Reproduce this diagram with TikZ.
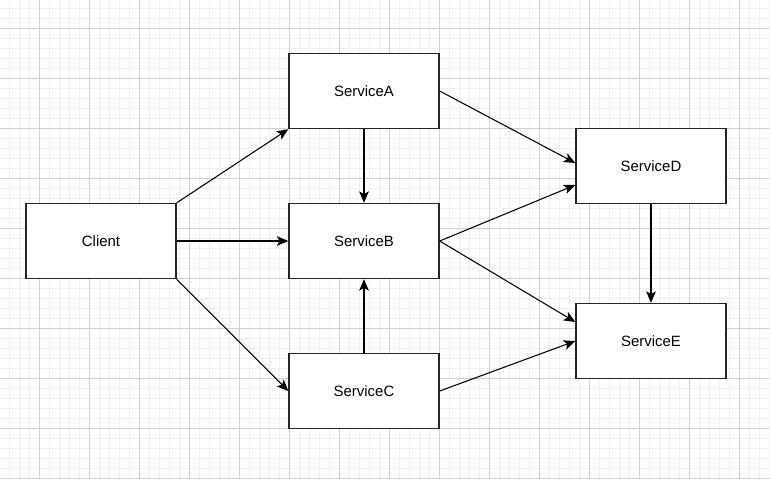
\documentclass[tikz,border=0pt]{standalone}
\usepackage{fontspec}
\setmainfont{Liberation Sans}
\usetikzlibrary{arrows.meta}

\begin{document}
\begin{tikzpicture}[
  x=0.02cm, y=-0.02cm,
  svc/.style={rectangle, draw=black!85, fill=white, line width=0.8pt, minimum width=3cm, minimum height=1.5cm, inner sep=0pt, font=\fontsize{8.5}{10}\selectfont},
  call/.style={line width=0.6pt, -{Stealth[length=6.5pt, width=5.5pt, inset=1.5pt]}},
  gridminor/.style={draw=black!6, line width=0.4pt},
  gridmajor/.style={draw=black!18, line width=0.5pt}
]

  % Fondo y cuadricula
  \useasboundingbox (0,0) rectangle (770,478);
  \fill[white] (0,0) rectangle (770,478);
  \foreach \x in {9,19,...,769} \draw[gridminor] (\x,0) -- (\x,478);
  \foreach \y in {8,18,...,478} \draw[gridminor] (0,\y) -- (770,\y);
  \foreach \x in {39,89,...,739} \draw[gridmajor] (\x,0) -- (\x,478);
  \foreach \y in {28,78,...,478} \draw[gridmajor] (0,\y) -- (770,\y);

  % Cliente y servicios
  \node[svc] (client) at (101,241) {Client};
  \node[svc] (sa) at (364,91) {ServiceA};
  \node[svc] (sb) at (364,241) {ServiceB};
  \node[svc] (sc) at (364,391) {ServiceC};
  \node[svc] (sd) at (651,166) {ServiceD};
  \node[svc] (se) at (651,341) {ServiceE};

  % Llamadas desde el cliente
  \draw[call] (client.north east) -- (sa.south west);
  \draw[call] (client.east) -- (sb.west);
  \draw[call] (client.south east) -- (sc.west);

  % Llamadas entre servicios
  \draw[call] (sa.south) -- (sb.north);
  \draw[call] (sc.north) -- (sb.south);
  \draw[call] (sa.east) -- ([yshift=0.06cm]sd.west);
  \draw[call] (sb.east) -- ([yshift=-0.38cm]sd.west);
  \draw[call] (sb.east) -- ([yshift=0.38cm]se.west);
  \draw[call] (sc.east) -- (se.west);
  \draw[call] (sd.south) -- (se.north);

\end{tikzpicture}
\end{document}
